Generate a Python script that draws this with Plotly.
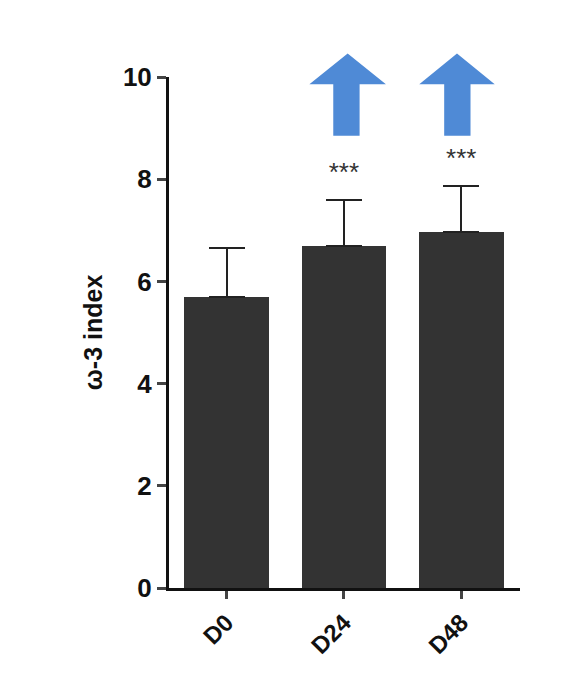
import plotly.graph_objects as go

groups = ["D0", "D24", "D48"]
means = [5.7, 6.7, 6.97]
sems = [0.95, 0.9, 0.9]
stars = ["", "***", "***"]
xpos = [0, 1, 2]

fig = go.Figure()
fig.add_bar(x=xpos, y=means, width=0.72, marker=dict(color="#333333", line=dict(width=0)),
            error_y=dict(type="data", array=sems, arrayminus=[0, 0, 0], color="#222", thickness=2, width=18))
fig.add_scatter(x=xpos, y=[m + s + 0.5 for m, s in zip(means, sems)], mode="text", text=stars,
                textfont=dict(size=26, color="#333"), cliponaxis=False, showlegend=False)

def arrow(x0, x1, s0, s1):
    return dict(type="path", xref="paper", yref="paper",
                path=f"M {s0} 0.885 L {s1} 0.885 L {s1} 0.986 L {x1} 0.986 L {(x0+x1)/2} 1.046 L {x0} 0.986 L {s0} 0.986 Z",
                fillcolor="#4f8ad6", line=dict(width=0))

fig.update_layout(
    width=574, height=686, plot_bgcolor="white", paper_bgcolor="white",
    margin=dict(l=161, r=62, t=69, b=106), showlegend=False, bargap=0,
    font=dict(family="Liberation Sans, Arial", color="#111"),
    shapes=[arrow(0.40, 0.618, 0.468, 0.543), arrow(0.713, 0.928, 0.784, 0.859)],
    xaxis=dict(range=[-0.49, 2.5], tickvals=xpos, ticktext=[f"<b>{g}</b>" for g in groups],
               tickangle=-45, showline=True, linecolor="#111", linewidth=3,
               ticks="outside", ticklen=8, tickwidth=2.5, tickfont=dict(size=24)),
    yaxis=dict(range=[0, 10], tickvals=[0, 2, 4, 6, 8, 10], ticktext=[f"<b>{v}</b>" for v in [0, 2, 4, 6, 8, 10]],
               showline=True, linecolor="#111", linewidth=3, showgrid=False, zeroline=False,
               ticks="outside", ticklen=9, tickwidth=2.5, tickfont=dict(size=26),
               title=dict(text="<b>ω-3 index</b>", font=dict(size=25), standoff=14)),
)
fig.write_html("out.html")
